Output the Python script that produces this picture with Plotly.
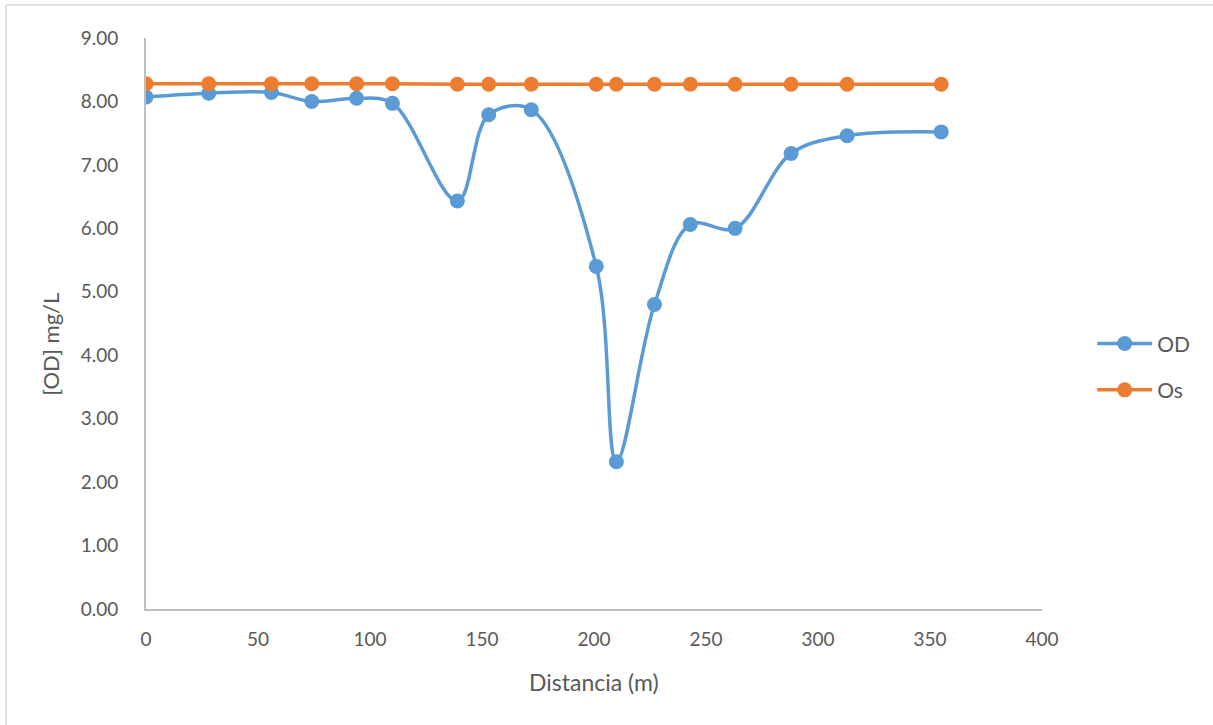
import plotly.graph_objects as go

distancia = [0, 28, 56, 74, 94, 110, 139, 153, 172, 201, 210, 227, 243, 263, 288, 313, 355]
od = [8.07, 8.13, 8.14, 8.00, 8.05, 7.97, 6.43, 7.79, 7.87, 5.40, 2.32, 4.80, 6.06, 6.00, 7.18, 7.46, 7.52]
os_ = [8.28, 8.28, 8.28, 8.28, 8.28, 8.28, 8.27, 8.27, 8.27, 8.27, 8.27, 8.27, 8.27, 8.27, 8.27, 8.27, 8.27]

y_ticks = [0, 1, 2, 3, 4, 5, 6, 7, 8, 9]
x_ticks = [0, 50, 100, 150, 200, 250, 300, 350, 400]

FONT = "Lato"
TXT = "#595959"
AX = "#bfbfbf"

fig = go.Figure()
fig.add_trace(go.Scatter(
    x=distancia, y=od, name="OD", mode="lines+markers", legendgroup="a",
    line=dict(color="#5B9BD5", width=3.5, shape="spline", smoothing=1),
    marker=dict(color="#5B9BD5", size=15),
))
fig.add_trace(go.Scatter(
    x=distancia, y=os_, name="Os", mode="lines+markers", legendgroup="b",
    line=dict(color="#ED7D31", width=3.5, shape="spline", smoothing=1),
    marker=dict(color="#ED7D31", size=15),
))

fig.update_layout(
    width=1213, height=725,
    margin=dict(l=146, r=171, t=38, b=116),
    paper_bgcolor="white", plot_bgcolor="white",
    font=dict(family=FONT, size=19, color=TXT),
    showlegend=True,
    legend=dict(x=1.056, y=0.424, xanchor="left", yanchor="middle",
                font=dict(family=FONT, size=21, color=TXT),
                itemwidth=55, traceorder="grouped", tracegroupgap=16,
                bgcolor="rgba(0,0,0,0)"),
    xaxis=dict(range=[0, 400], tickvals=x_ticks, ticktext=[str(v) for v in x_ticks],
               showgrid=False, zeroline=False, showline=True, linecolor=AX, linewidth=2,
               ticks="", ticklabelstandoff=12, tickfont=dict(size=19, color=TXT)),
    yaxis=dict(range=[0, 9], tickvals=y_ticks, ticktext=[f"{v:.2f}" for v in y_ticks],
               showgrid=False, zeroline=False, showline=True, linecolor=AX, linewidth=2,
               ticks="", ticklabelstandoff=22, tickfont=dict(size=19, color=TXT)),
    annotations=[
        dict(text="Distancia (m)", xref="paper", yref="paper", x=0.5, y=-0.128,
             xanchor="center", yanchor="middle", showarrow=False,
             font=dict(family=FONT, size=23, color=TXT)),
        dict(text="[OD] mg/L", xref="paper", yref="paper", x=-0.107, y=0.463,
             xanchor="center", yanchor="middle", showarrow=False, textangle=-90,
             font=dict(family=FONT, size=22, color=TXT)),
    ],
    shapes=[
        dict(type="line", xref="paper", yref="paper", x0=-0.1563, x1=1.2,
             y0=1.0578, y1=1.0578, line=dict(color="#d9d9d9", width=1.5)),
        dict(type="line", xref="paper", yref="paper", x0=-0.1563, x1=-0.1563,
             y0=1.0578, y1=-0.3, line=dict(color="#d9d9d9", width=1.5)),
    ],
)

fig.write_html("out.html")
